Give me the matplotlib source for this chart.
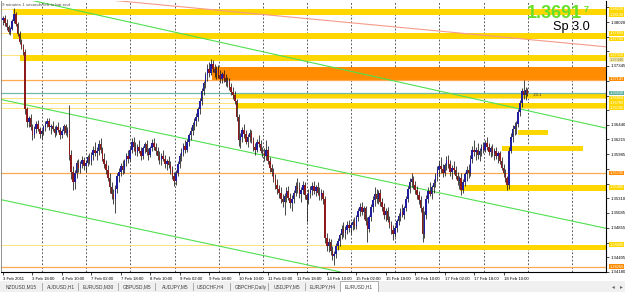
import numpy as np
import matplotlib
matplotlib.use("Agg")
import matplotlib.pyplot as plt
from matplotlib.patches import Rectangle
import matplotlib.transforms as mtransforms

# ---------------- data (EURUSD H1, 3 Feb 2011 02:00 -> 18 Feb 2011) ----------------
opens = [
 1.3805,1.3808,1.3800,1.3794,1.3787,1.3792,1.3804,1.3815,1.3799,1.3784,
 1.3772,1.3764,1.3756,1.3668,1.3648,1.3654,1.3640,1.3628,1.3638,1.3646,
 1.3637,1.3630,1.3634,1.3640,1.3646,1.3650,1.3640,1.3642,1.3637,1.3632,
 1.3641,1.3636,1.3628,1.3635,1.3642,1.3632,1.3636,1.3598,1.3572,1.3556,
 1.3570,1.3585,1.3578,1.3584,1.3590,1.3580,1.3586,1.3594,1.3588,1.3598,
 1.3606,1.3600,1.3604,1.3614,1.3605,1.3592,1.3584,1.3575,1.3562,1.3548,
 1.3538,1.3530,1.3546,1.3565,1.3572,1.3580,1.3575,1.3588,1.3596,1.3592,
 1.3606,1.3618,1.3610,1.3602,1.3610,1.3604,1.3596,1.3608,1.3614,1.3602,
 1.3598,1.3608,1.3616,1.3610,1.3604,1.3596,1.3590,1.3596,1.3592,1.3584,
 1.3588,1.3582,1.3574,1.3566,1.3558,1.3570,1.3584,1.3596,1.3602,1.3612,
 1.3606,1.3618,1.3628,1.3634,1.3644,1.3650,1.3656,1.3668,1.3680,1.3696,
 1.3708,1.3720,1.3730,1.3724,1.3738,1.3730,1.3724,1.3728,1.3720,1.3714,
 1.3722,1.3716,1.3710,1.3712,1.3702,1.3695,1.3690,1.3680,1.3656,1.3620,
 1.3626,1.3636,1.3630,1.3618,1.3626,1.3632,1.3620,1.3610,1.3606,1.3618,
 1.3614,1.3604,1.3600,1.3596,1.3606,1.3588,1.3578,1.3572,1.3560,1.3552,
 1.3545,1.3540,1.3530,1.3526,1.3534,1.3542,1.3532,1.3524,1.3530,1.3540,
 1.3550,1.3546,1.3538,1.3544,1.3552,1.3536,1.3528,1.3540,1.3544,1.3550,
 1.3542,1.3548,1.3540,1.3534,1.3540,1.3530,1.3470,1.3458,1.3464,1.3450,
 1.3442,1.3446,1.3458,1.3466,1.3474,1.3484,1.3478,1.3482,1.3490,1.3486,
 1.3490,1.3494,1.3488,1.3502,1.3512,1.3518,1.3510,1.3516,1.3496,1.3484,
 1.3502,1.3518,1.3528,1.3538,1.3530,1.3540,1.3526,1.3518,1.3506,1.3512,
 1.3498,1.3490,1.3482,1.3476,1.3486,1.3496,1.3504,1.3510,1.3506,1.3516,
 1.3530,1.3546,1.3556,1.3560,1.3552,1.3544,1.3536,1.3528,1.3516,1.3476,
 1.3506,1.3530,1.3542,1.3538,1.3548,1.3554,1.3566,1.3574,1.3580,1.3576,
 1.3570,1.3582,1.3590,1.3584,1.3572,1.3578,1.3574,1.3566,1.3558,1.3562,
 1.3544,1.3556,1.3568,1.3574,1.3570,1.3592,1.3606,1.3602,1.3606,1.3598,
 1.3604,1.3610,1.3606,1.3616,1.3610,1.3602,1.3608,1.3600,1.3604,1.3596,
 1.3600,1.3588,1.3578,1.3570,1.3562,1.3552,1.3604,1.3626,1.3638,1.3642,
 1.3646,1.3664,1.3678,1.3696,1.3690,1.3698]
highs = [
 1.3812,1.3813,1.3806,1.3798,1.3795,1.3806,1.3824,1.3818,1.3802,1.3788,
 1.3776,1.3768,1.3760,1.3672,1.3658,1.3660,1.3645,1.3642,1.3650,1.3652,
 1.3641,1.3638,1.3644,1.3650,1.3655,1.3654,1.3646,1.3650,1.3642,1.3644,
 1.3648,1.3640,1.3638,1.3646,1.3645,1.3640,1.3675,1.3605,1.3580,1.3575,
 1.3590,1.3592,1.3588,1.3596,1.3594,1.3590,1.3598,1.3600,1.3602,1.3612,
 1.3618,1.3610,1.3621,1.3624,1.3610,1.3600,1.3590,1.3582,1.3570,1.3556,
 1.3545,1.3552,1.3570,1.3578,1.3586,1.3590,1.3592,1.3600,1.3606,1.3610,
 1.3624,1.3626,1.3618,1.3614,1.3620,1.3610,1.3612,1.3618,1.3620,1.3608,
 1.3612,1.3622,1.3624,1.3616,1.3610,1.3604,1.3600,1.3606,1.3598,1.3592,
 1.3596,1.3588,1.3580,1.3572,1.3575,1.3588,1.3600,1.3608,1.3616,1.3620,
 1.3622,1.3632,1.3640,1.3648,1.3655,1.3662,1.3672,1.3685,1.3700,1.3712,
 1.3726,1.3738,1.3740,1.3746,1.3744,1.3738,1.3734,1.3736,1.3728,1.3726,
 1.3728,1.3722,1.3718,1.3716,1.3708,1.3702,1.3696,1.3684,1.3660,1.3632,
 1.3640,1.3646,1.3636,1.3630,1.3638,1.3636,1.3626,1.3616,1.3622,1.3628,
 1.3620,1.3610,1.3608,1.3620,1.3612,1.3594,1.3584,1.3578,1.3568,1.3560,
 1.3552,1.3548,1.3538,1.3540,1.3548,1.3550,1.3540,1.3536,1.3544,1.3556,
 1.3562,1.3556,1.3548,1.3558,1.3556,1.3540,1.3546,1.3550,1.3556,1.3558,
 1.3552,1.3556,1.3548,1.3546,1.3544,1.3534,1.3478,1.3470,1.3468,1.3458,
 1.3450,1.3462,1.3470,1.3478,1.3490,1.3494,1.3488,1.3496,1.3498,1.3494,
 1.3500,1.3502,1.3506,1.3516,1.3524,1.3526,1.3520,1.3520,1.3502,1.3506,
 1.3522,1.3534,1.3549,1.3546,1.3544,1.3546,1.3532,1.3524,1.3516,1.3518,
 1.3504,1.3496,1.3490,1.3490,1.3500,1.3508,1.3516,1.3522,1.3520,1.3534,
 1.3550,1.3562,1.3570,1.3566,1.3558,1.3550,1.3542,1.3534,1.3520,1.3512,
 1.3536,1.3548,1.3556,1.3552,1.3560,1.3570,1.3580,1.3588,1.3594,1.3584,
 1.3586,1.3596,1.3598,1.3590,1.3582,1.3588,1.3580,1.3572,1.3566,1.3570,
 1.3560,1.3572,1.3580,1.3584,1.3598,1.3612,1.3620,1.3610,1.3616,1.3608,
 1.3614,1.3618,1.3620,1.3626,1.3616,1.3612,1.3614,1.3608,1.3610,1.3604,
 1.3604,1.3594,1.3584,1.3576,1.3566,1.3610,1.3632,1.3644,1.3648,1.3650,
 1.3668,1.3682,1.3700,1.3713,1.3702,1.3700]
lows = [
 1.3798,1.3796,1.3790,1.3783,1.3782,1.3790,1.3800,1.3796,1.3780,1.3768,
 1.3760,1.3752,1.3660,1.3640,1.3640,1.3636,1.3621,1.3624,1.3632,1.3634,
 1.3624,1.3622,1.3628,1.3634,1.3640,1.3636,1.3630,1.3635,1.3626,1.3628,
 1.3633,1.3622,1.3624,1.3630,1.3628,1.3625,1.3590,1.3560,1.3544,1.3546,
 1.3562,1.3572,1.3570,1.3578,1.3575,1.3572,1.3580,1.3584,1.3582,1.3590,
 1.3596,1.3590,1.3598,1.3600,1.3588,1.3578,1.3568,1.3558,1.3540,1.3530,
 1.3522,1.3509,1.3540,1.3556,1.3565,1.3568,1.3570,1.3580,1.3586,1.3588,
 1.3600,1.3604,1.3598,1.3596,1.3600,1.3590,1.3592,1.3600,1.3598,1.3590,
 1.3594,1.3604,1.3606,1.3598,1.3590,1.3584,1.3582,1.3588,1.3578,1.3574,
 1.3578,1.3568,1.3560,1.3550,1.3552,1.3565,1.3578,1.3588,1.3596,1.3600,
 1.3602,1.3612,1.3620,1.3628,1.3636,1.3642,1.3650,1.3660,1.3674,1.3690,
 1.3700,1.3712,1.3718,1.3720,1.3725,1.3718,1.3714,1.3716,1.3708,1.3708,
 1.3710,1.3704,1.3702,1.3698,1.3690,1.3684,1.3676,1.3650,1.3612,1.3608,
 1.3618,1.3624,1.3614,1.3610,1.3618,1.3616,1.3604,1.3598,1.3602,1.3610,
 1.3600,1.3594,1.3588,1.3590,1.3584,1.3572,1.3566,1.3556,1.3546,1.3538,
 1.3532,1.3524,1.3518,1.3506,1.3526,1.3528,1.3516,1.3512,1.3524,1.3534,
 1.3540,1.3532,1.3526,1.3538,1.3530,1.3494,1.3522,1.3532,1.3536,1.3538,
 1.3534,1.3536,1.3528,1.3528,1.3522,1.3462,1.3450,1.3448,1.3444,1.3436,
 1.3428,1.3440,1.3452,1.3458,1.3468,1.3472,1.3468,1.3476,1.3480,1.3476,
 1.3482,1.3484,1.3484,1.3496,1.3504,1.3506,1.3500,1.3490,1.3464,1.3480,
 1.3496,1.3510,1.3520,1.3524,1.3522,1.3520,1.3512,1.3500,1.3496,1.3494,
 1.3486,1.3476,1.3467,1.3472,1.3480,1.3490,1.3496,1.3502,1.3500,1.3512,
 1.3526,1.3540,1.3548,1.3546,1.3538,1.3530,1.3522,1.3510,1.3464,1.3470,
 1.3500,1.3524,1.3534,1.3530,1.3540,1.3548,1.3558,1.3566,1.3570,1.3564,
 1.3566,1.3574,1.3578,1.3566,1.3560,1.3568,1.3560,1.3552,1.3546,1.3536,
 1.3540,1.3550,1.3558,1.3562,1.3566,1.3586,1.3596,1.3590,1.3592,1.3588,
 1.3596,1.3600,1.3602,1.3606,1.3598,1.3594,1.3596,1.3590,1.3592,1.3586,
 1.3584,1.3574,1.3564,1.3556,1.3544,1.3546,1.3600,1.3618,1.3628,1.3630,
 1.3640,1.3658,1.3672,1.3684,1.3682,1.3688]
closes = [
 1.3808,1.3800,1.3794,1.3787,1.3792,1.3804,1.3815,1.3799,1.3784,1.3772,
 1.3764,1.3756,1.3668,1.3648,1.3654,1.3640,1.3628,1.3638,1.3646,1.3637,
 1.3630,1.3634,1.3640,1.3646,1.3650,1.3640,1.3642,1.3637,1.3632,1.3641,
 1.3636,1.3628,1.3635,1.3642,1.3632,1.3636,1.3598,1.3572,1.3556,1.3570,
 1.3585,1.3578,1.3584,1.3590,1.3580,1.3586,1.3594,1.3588,1.3598,1.3606,
 1.3600,1.3604,1.3614,1.3605,1.3592,1.3584,1.3575,1.3562,1.3548,1.3538,
 1.3530,1.3546,1.3565,1.3572,1.3580,1.3575,1.3588,1.3596,1.3592,1.3606,
 1.3618,1.3610,1.3602,1.3610,1.3604,1.3596,1.3608,1.3614,1.3602,1.3598,
 1.3608,1.3616,1.3610,1.3604,1.3596,1.3590,1.3596,1.3592,1.3584,1.3588,
 1.3582,1.3574,1.3566,1.3558,1.3570,1.3584,1.3596,1.3602,1.3612,1.3606,
 1.3618,1.3628,1.3634,1.3644,1.3650,1.3656,1.3668,1.3680,1.3696,1.3708,
 1.3720,1.3730,1.3724,1.3738,1.3730,1.3724,1.3728,1.3720,1.3714,1.3722,
 1.3716,1.3710,1.3712,1.3702,1.3695,1.3690,1.3680,1.3656,1.3620,1.3626,
 1.3636,1.3630,1.3618,1.3626,1.3632,1.3620,1.3610,1.3606,1.3618,1.3614,
 1.3604,1.3600,1.3596,1.3606,1.3588,1.3578,1.3572,1.3560,1.3552,1.3545,
 1.3540,1.3530,1.3526,1.3534,1.3542,1.3532,1.3524,1.3530,1.3540,1.3550,
 1.3546,1.3538,1.3544,1.3552,1.3536,1.3528,1.3540,1.3544,1.3550,1.3542,
 1.3548,1.3540,1.3534,1.3540,1.3530,1.3470,1.3458,1.3464,1.3450,1.3442,
 1.3446,1.3458,1.3466,1.3474,1.3484,1.3478,1.3482,1.3490,1.3486,1.3490,
 1.3494,1.3488,1.3502,1.3512,1.3518,1.3510,1.3516,1.3496,1.3484,1.3502,
 1.3518,1.3528,1.3538,1.3530,1.3540,1.3526,1.3518,1.3506,1.3512,1.3498,
 1.3490,1.3482,1.3476,1.3486,1.3496,1.3504,1.3510,1.3506,1.3516,1.3530,
 1.3546,1.3556,1.3560,1.3552,1.3544,1.3536,1.3528,1.3516,1.3476,1.3506,
 1.3530,1.3542,1.3538,1.3548,1.3554,1.3566,1.3574,1.3580,1.3576,1.3570,
 1.3582,1.3590,1.3584,1.3572,1.3578,1.3574,1.3566,1.3558,1.3562,1.3544,
 1.3556,1.3568,1.3574,1.3570,1.3592,1.3606,1.3602,1.3606,1.3598,1.3604,
 1.3610,1.3606,1.3616,1.3610,1.3602,1.3608,1.3600,1.3604,1.3596,1.3600,
 1.3588,1.3578,1.3570,1.3562,1.3552,1.3604,1.3626,1.3638,1.3642,1.3646,
 1.3664,1.3678,1.3696,1.3690,1.3698,1.36917]

date_labels = ["3 Feb 2011", "3 Feb 18:00", "4 Feb 10:00", "7 Feb 02:00", "7 Feb 18:00",
               "8 Feb 10:00", "9 Feb 02:00", "9 Feb 18:00", "10 Feb 10:00", "11 Feb 02:00",
               "11 Feb 18:00", "14 Feb 10:00", "15 Feb 02:00", "15 Feb 18:00", "16 Feb 10:00",
               "17 Feb 02:00", "17 Feb 18:00", "18 Feb 10:00"]
price_ticks = [1.34180, 1.34405, 1.34630, 1.34855, 1.35085, 1.35310, 1.35535, 1.35760,
               1.35985, 1.36215, 1.36440, 1.36665, 1.36890, 1.37120, 1.37345, 1.37570,
               1.37795, 1.38020, 1.38245]

# zones: start bar, end bar (None = to the right edge), low price, high price
zone_start = [5.4, 5.4, 9.2, 113.6, 125.0, 127.2, 280.0, 271.0, 248.4, 181.5]
zone_end   = [None, None, None, None, None, None, 296.0, 315.0, None, None]
zone_low   = [1.3813, 1.3776, 1.3742, 1.3713, 1.3685, 1.3670, 1.3628, 1.3604, 1.3543, 1.3452]
zone_high  = [1.3822, 1.3785, 1.3751, 1.3733, 1.3693, 1.3678, 1.3636, 1.3611, 1.3552, 1.3460]
zone_kind  = ["gold", "gold", "gold", "orange", "gold", "gold", "gold", "gold", "gold", "gold"]

# horizontal lines
orange_levels = [1.3713, 1.3570, 1.3426]
pale_levels = [1.3822, 1.3785, 1.3751, 1.3685, 1.3678, 1.3670, 1.3460]
bid_level = 1.3693

# trend lines (bar index, price)
green_lines = [((14.7, 1.3836), (327.7, 1.3639)),
               ((-1.09, 1.3683), (327.7, 1.3485)),
               ((-1.09, 1.3529), (183.2, 1.3418))]
red_line = ((57.6, 1.3836), (327.7, 1.3764))

# right-axis price tags
tag_prices = [1.38220, 1.38130, 1.37850, 1.37760, 1.37510, 1.37440, 1.37145,
              1.36930, 1.36850, 1.36780, 1.36700, 1.35700, 1.35480, 1.34600, 1.34260]
tag_kinds = ["gold", "gold", "gold", "gold", "gold", "pale", "orange",
             "teal", "gold", "gold", "gold", "orange", "gold", "gold", "orange"]

tabs = ["NZDUSD,M15", "AUDUSD,H1", "EURUSD,M30", "GBPUSD,M5", "AUDJPY,M5",
        "USDCHF,H4", "GBPCHF,Daily", "USDJPY,M5", "EURJPY,H4", "EURUSD,H1"]

# ---------------- drawing ----------------
W, H = 625, 292
fig = plt.figure(figsize=(W / 100, H / 100), dpi=100)
fig.patch.set_facecolor("white")
plt.rcParams["font.family"] = ["Liberation Sans", "DejaVu Sans"]

ax = fig.add_axes([1 / W, 20 / H, 605 / W, 271 / H])
ax.set_facecolor("white")
XL, XR = -1.09, 327.7
ax.set_xlim(XL, XR)
ax.set_ylim(1.34178, 1.38344)

colors = {"gold": "#FFD700", "orange": "#FF8C00", "pale": "#F3EBB0", "teal": "#5FAFA0"}

# vertical dashed grid (one per day of 24 bars)
for g in np.arange(21.2, XR, 24):
    ax.axvline(g, color="#404040", lw=0.6, ls=(0, (2.2, 2.2)), zorder=1)

# zones
for s, e, lo, hi, k in zip(zone_start, zone_end, zone_low, zone_high, zone_kind):
    e = XR if e is None else e
    ax.add_patch(Rectangle((s, lo), e - s, hi - lo, facecolor=colors[k],
                           edgecolor="none", zorder=1.5))
for lv in pale_levels:
    ax.axhline(lv, color="#FFE37A", lw=0.7, zorder=1.4)
for lv in orange_levels:
    ax.axhline(lv, color="#FFA850", lw=0.9, zorder=1.6)
ax.axhline(bid_level, color="#72B8A8", lw=0.9, zorder=1.7)

# trend lines
for (x0, y0), (x1, y1) in green_lines:
    ax.plot([x0, x1], [y0, y1], color="#4FE04F", lw=0.8, zorder=2)
ax.plot([red_line[0][0], red_line[1][0]], [red_line[0][1], red_line[1][1]],
        color="#F59A8A", lw=0.8, zorder=2)

# candles
o = np.array(opens); h = np.array(highs); l = np.array(lows); c = np.array(closes)
idx = np.arange(len(c))
up = c >= o
ax.vlines(idx, l, h, color="#151515", lw=0.55, zorder=3)
blo = np.minimum(o, c)
bh = np.maximum(np.abs(c - o), 0.00006)
ax.bar(idx[up], bh[up], bottom=blo[up], width=0.8, color="#1E1E9E", lw=0, zorder=4)
ax.bar(idx[~up], bh[~up], bottom=blo[~up], width=0.8, color="#8E1B1B", lw=0, zorder=4)

# axes styling
ax.spines["top"].set_visible(False)
ax.spines["left"].set_color("#808080")
ax.spines["left"].set_linewidth(0.6)
ax.spines["right"].set_color("black")
ax.spines["right"].set_linewidth(0.8)
ax.spines["bottom"].set_color("black")
ax.spines["bottom"].set_linewidth(0.8)

# price labels on the right: those hidden under a coloured tag are not shown
ax.yaxis.tick_right()
ax.set_yticks(price_ticks)
shown = [f"{p:.5f}" if min(abs(p - t) for t in tag_prices) > 0.00062 else ""
         for p in price_ticks]
ax.set_yticklabels(shown)
ax.tick_params(axis="y", length=2, width=0.5, pad=1.5, labelsize=3.1, colors="black")

xt = np.arange(len(date_labels)) * 16
ax.set_xticks(xt)
ax.set_xticklabels(date_labels)
ax.tick_params(axis="x", length=2.5, width=0.5, pad=1.2, labelsize=3.1, colors="black")
for t in ax.get_xticklabels():
    t.set_ha("left")

# price tags on the right axis
tr = mtransforms.blended_transform_factory(ax.transAxes, ax.transData)
for p, k in zip(tag_prices, tag_kinds):
    tc = "#8a7a40" if k == "pale" else "white"
    ax.text(1.006, p, f"{p:.5f}", transform=tr, fontsize=2.8, color=tc,
            va="center", ha="left", zorder=10, clip_on=False,
            bbox=dict(boxstyle="square,pad=0.12", fc=colors[k], ec="none"))

# texts in the chart
fig.text(2 / W, 1 - 4.5 / H, "9 minutes 1 seconds left to bar end", fontsize=3.2,
         color="#505050", va="center", ha="left")
fig.text(582 / W, 1 - 14 / H, "1.3691", fontsize=13, fontweight="bold",
         color="#66E02A", va="center", ha="right")
fig.text(584 / W, 1 - 10 / H, "7", fontsize=6.5, fontweight="bold",
         color="#66E02A", va="center", ha="left")
fig.text(590 / W, 1 - 27 / H, "Sp 3.0", fontsize=9.2, color="black",
         va="center", ha="right")
fig.text(533 / W, 1 - 94.5 / H, "-23.1", fontsize=3, color="#303030",
         va="center", ha="left")

# tab bar
fig.add_artist(Rectangle((0, 0), 1, 11 / H, transform=fig.transFigure,
                         facecolor="#F0F0F0", edgecolor="none", zorder=0))
fig.add_artist(Rectangle((340 / W, 0), 38 / W, 11 / H, transform=fig.transFigure,
                         facecolor="white", edgecolor="#909090", lw=0.5, zorder=1))
tab_x = [6, 47, 83, 123, 162, 197, 235, 274, 310, 345]
sep_x = [42, 78, 118, 155, 193, 230, 268, 305]
for name, x in zip(tabs, tab_x):
    fig.text(x / W, 5 / H, name, fontsize=3.5, color="#404040", va="center", ha="left", zorder=2)
for x in sep_x:
    fig.add_artist(plt.Line2D([x / W, x / W], [2 / H, 9 / H], transform=fig.transFigure,
                              color="#909090", lw=0.5))
fig.text(613 / W, 5 / H, "\u25c2", fontsize=4, color="#606060", va="center", ha="center",
         family="DejaVu Sans")
fig.text(621 / W, 5 / H, "\u25b8", fontsize=4, color="#606060", va="center", ha="center",
         family="DejaVu Sans")

fig.savefig("out.png", dpi=100, facecolor="white")
